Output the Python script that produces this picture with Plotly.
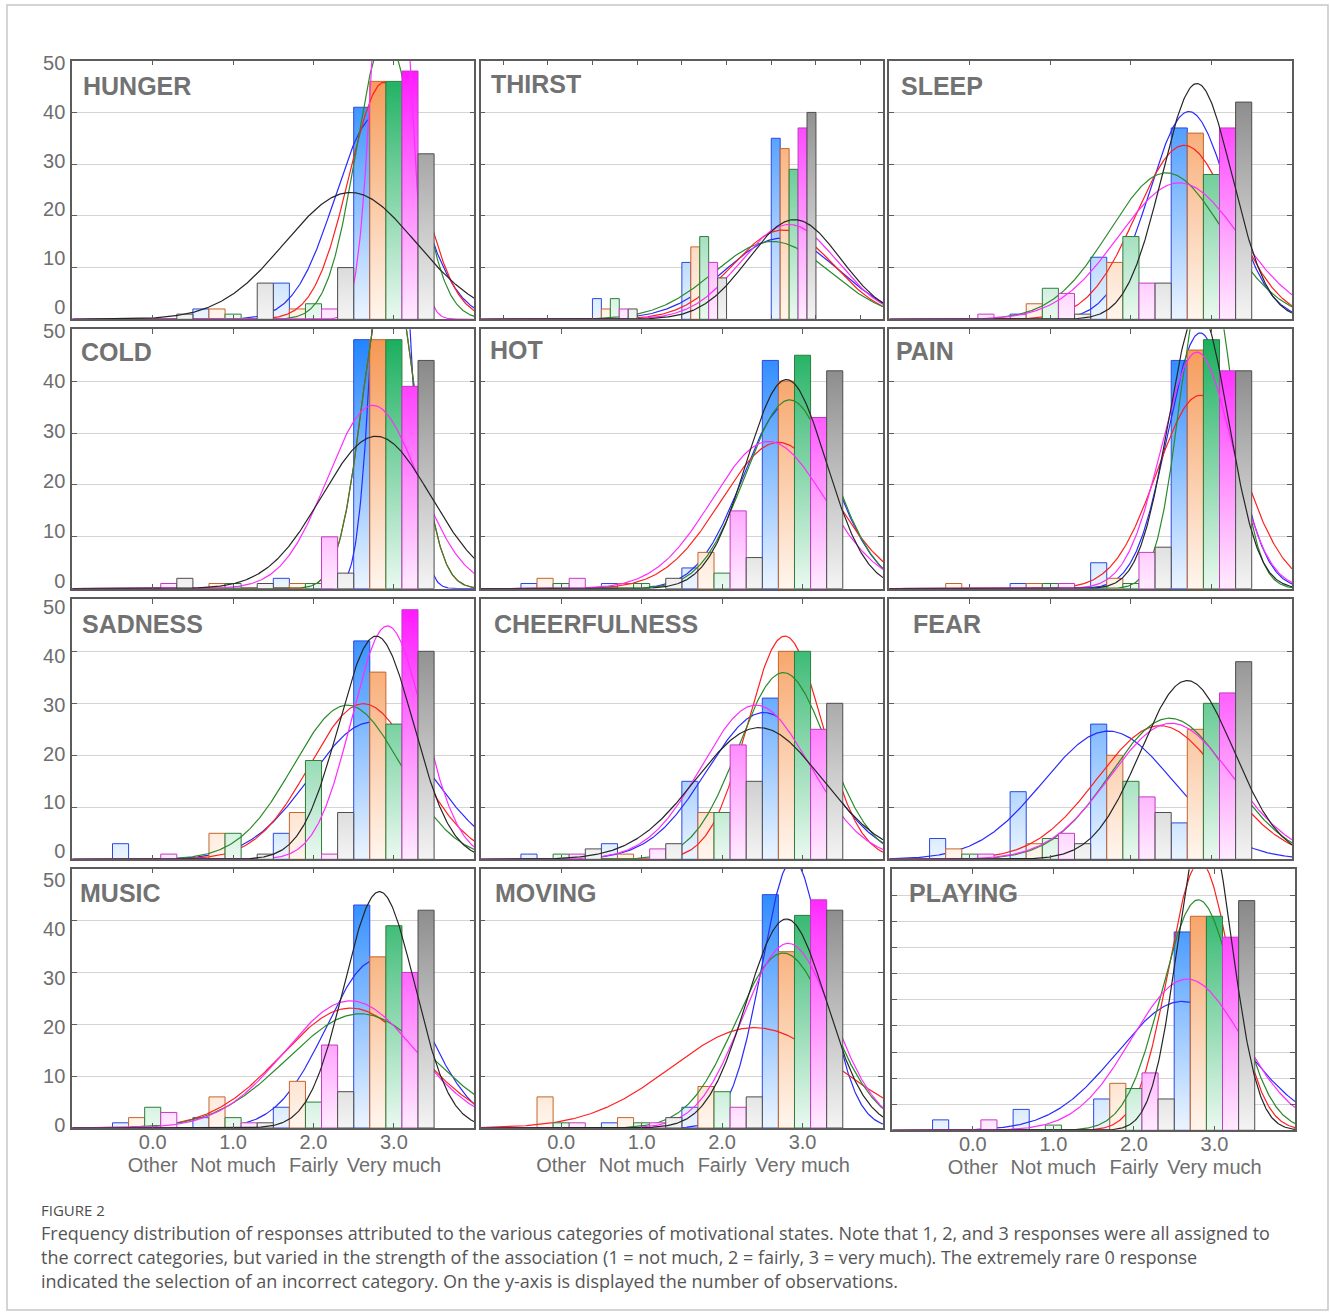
import numpy as np
import plotly.graph_objects as go

# ---------------------------------------------------------------- data
CATEGORY_VALUES = [0, 1, 2, 3]
CATEGORY_NUMBERS = ["0.0", "1.0", "2.0", "3.0"]
CATEGORY_WORDS = ["Other", "Not much", "Fairly", "Very much"]
Y_TICKS = [0, 10, 20, 30, 40, 50]
PANEL_NAMES = ["HUNGER", "THIRST", "SLEEP", "COLD", "HOT", "PAIN",
               "SADNESS", "CHEERFULNESS", "FEAR", "MUSIC", "MOVING", "PLAYING"]

# number of observations per response category (0 Other, 1 Not much, 2 Fairly, 3 Very much)
# one row per series (blue, orange, green, magenta, grey)
HUNGER = [[0, 2, 7, 41], [0, 2, 2, 46], [0, 1, 3, 46], [0, 0, 2, 48], [1, 7, 10, 32]]
THIRST = [[0, 4, 11, 35], [0, 2, 14, 33], [0, 4, 16, 29], [0, 2, 11, 37], [0, 2, 8, 40]]
SLEEP = [[0, 1, 12, 37], [0, 3, 11, 36], [0, 6, 16, 28], [1, 5, 7, 37], [0, 1, 7, 42]]
COLD = [[0, 0, 2, 48], [0, 1, 1, 48], [0, 1, 1, 48], [1, 0, 10, 39], [2, 1, 3, 44]]
HOT = [[1, 1, 4, 44], [2, 1, 7, 40], [1, 1, 3, 45], [2, 0, 15, 33], [0, 2, 6, 42]]
PAIN = [[0, 1, 5, 44], [1, 1, 2, 46], [0, 1, 1, 48], [0, 1, 7, 42], [0, 0, 8, 42]]
SADNESS = [[3, 0, 5, 42], [0, 5, 9, 36], [0, 5, 19, 26], [1, 0, 1, 48], [0, 1, 9, 40]]
CHEERFULNESS = [[1, 3, 15, 31], [0, 1, 9, 40], [1, 0, 9, 40], [1, 2, 22, 25], [2, 3, 15, 30]]
FEAR = [[4, 13, 26, 7], [2, 3, 20, 25], [1, 4, 15, 30], [1, 5, 12, 32], [0, 3, 9, 38]]
MUSIC = [[1, 2, 4, 43], [2, 6, 9, 33], [4, 2, 5, 39], [3, 1, 16, 30], [0, 1, 7, 42]]
MOVING = [[0, 1, 4, 45], [6, 2, 8, 34], [1, 1, 7, 41], [1, 1, 4, 44], [0, 2, 6, 42]]
PLAYING = [[2, 4, 6, 38], [0, 0, 9, 41], [0, 1, 8, 41], [2, 0, 11, 37], [0, 0, 6, 44]]

PANEL_COUNTS = [HUNGER, THIRST, SLEEP, COLD, HOT, PAIN,
                SADNESS, CHEERFULNESS, FEAR, MUSIC, MOVING, PLAYING]

CAPTION_HEAD = "FIGURE 2"
CAPTION_LINES = [
    "Frequency distribution of responses attributed to the various categories of motivational states. Note that 1, 2, and 3 responses were all assigned to",
    "the correct categories, but varied in the strength of the association (1 = not much, 2 = fairly, 3 = very much). The extremely rare 0 response",
    "indicated the selection of an incorrect category. On the y-axis is displayed the number of observations.",
]

# ---------------------------------------------------------------- layout / style
W, H = 1330, 1315
COL_X = [(72.3, 474.3), (480.7, 883.0), (889.3, 1292.0)]
ROW_Y = [(60.7, 319.3), (329.3, 588.7), (599.3, 859.3), (868.7, 1128.0)]
# pixel centre of the "50" and "0" y labels in each row (labels drift from the grid in the original)
ROW_LABEL_Y = [(63.3, 306.7), (331.0, 581.3), (607.0, 851.3), (880.3, 1125.3)]
PANEL_SHIFT = {11: (3.0, 0.6, 2.3)}       # PLAYING panel: dx, dtop, dbottom
BIN_WIDTH = [1, 0.5, 1, 1, 1, 1, 1, 1, 1, 1, 1, 1]   # THIRST drawn with half-width bins
X_RANGE_STD = [-1.0, 4.0]
X_RANGE_HALF = [-0.75, 3.75]
TITLE_INSET = [9.4, 9, 10.7, 7.7, 8, 6, 8.4, 12.3, 22.7, 7, 13.3, 16]
TITLE_CAPTOP = [16, 14.3, 16, 13.4, 12, 12.7, 16, 15.4, 15.4, 15, 15, 14.4]

SERIES_STYLE = [
    dict(full="rgb(25,128,255)", light="rgb(236,245,255)", edge="#2b48e0", curve="#2a2aff"),
    dict(full="rgb(245,148,78)", light="rgb(255,246,238)", edge="#c4652c", curve="#ff2020"),
    dict(full="rgb(18,172,88)", light="rgb(234,249,240)", edge="#2f7d3a", curve="#2a8a2a"),
    dict(full="rgb(255,16,255)", light="rgb(255,236,255)", edge="#c23cc2", curve="#ff2cff"),
    dict(full="rgb(122,122,122)", light="rgb(244,244,244)", edge="#4d4d4d", curve="#262626"),
]
FRAME = "#5c5c5c"
GRID = "#d4d4d4"
TEXT = "#6e6e6e"
FONT = "Liberation Sans, Arial, sans-serif"
TICKFONT = dict(family=FONT, size=20, color=TEXT)


def normal_fit(counts, bin_w):
    x = np.array(CATEGORY_VALUES, dtype=float)
    n = np.array(counts, dtype=float)
    total = n.sum()
    mean = (n * x).sum() / total
    sd = np.sqrt((n * (x - mean) ** 2).sum() / (total - 1))
    return mean, sd, total * bin_w / (sd * np.sqrt(2 * np.pi))


def hidden_anchor(xa, ya):
    # invisible point outside the ranges: only registers an extra (label) axis pair
    return go.Scatter(x=[0], y=[-1000], xaxis=xa, yaxis=ya, mode="markers",
                      marker=dict(opacity=0), hoverinfo="skip", showlegend=False)


fig = go.Figure()
layout = dict(
    width=W, height=H, autosize=False,
    margin=dict(l=0, r=0, t=0, b=0, autoexpand=False),
    paper_bgcolor="white", plot_bgcolor="white",
    showlegend=False,
    annotations=[], shapes=[],
)

extra_y = 13
extra_x = 13
for p, (name, counts) in enumerate(zip(PANEL_NAMES, PANEL_COUNTS)):
    r, c = divmod(p, 3)
    left, right = COL_X[c]
    top, bottom = ROW_Y[r]
    if p in PANEL_SHIFT:
        dx, dt, db = PANEL_SHIFT[p]
        left, right, top, bottom = left + dx, right + dx, top + dt, bottom + db
    sfx = "" if p == 0 else str(p + 1)
    xa, ya = "x" + sfx, "y" + sfx
    bw = BIN_WIDTH[p]
    xr = X_RANGE_STD if bw == 1 else X_RANGE_HALF
    bar_w = bw / 5.0

    xgrid = np.linspace(xr[0], xr[1], 500)
    for i, (row, st) in enumerate(zip(counts, SERIES_STYLE)):
        xs, ys = [], []
        for k, n in zip(CATEGORY_VALUES, row):
            if n <= 0:
                continue
            x0 = k - 0.5 + i * bar_w
            x1 = x0 + bar_w
            xs += [x0, x0, x1, x1, x0, None]
            ys += [0, n, n, 0, 0, None]
        fig.add_trace(go.Scatter(
            x=xs, y=ys, mode="lines", fill="toself",
            fillgradient=dict(type="vertical", colorscale=[[0, st["light"]], [1, st["full"]]],
                              start=0, stop=50),
            line=dict(color=st["edge"], width=1),
            xaxis=xa, yaxis=ya, hoverinfo="skip", showlegend=False,
        ))
        mean, sd, peak = normal_fit(row, bw)
        fig.add_trace(go.Scatter(
            x=xgrid, y=peak * np.exp(-0.5 * ((xgrid - mean) / sd) ** 2),
            mode="lines", line=dict(color=st["curve"], width=1.2),
            xaxis=xa, yaxis=ya, hoverinfo="skip", showlegend=False,
        ))

    xd = [left / W, right / W]
    yd = [1 - bottom / H, 1 - top / H]
    if bw == 1:
        xtv, xtt = CATEGORY_VALUES, CATEGORY_NUMBERS
    else:
        xtv = list(np.arange(-0.5, 3.51, 0.5))
        xtt = [""] * len(xtv)
    layout["xaxis" + sfx] = dict(
        domain=xd, range=xr, anchor=ya, showgrid=False, zeroline=False,
        showline=True, linecolor=FRAME, linewidth=1.5, mirror="ticks",
        ticks="inside", ticklen=5, tickcolor=FRAME, tickwidth=1,
        tickmode="array", tickvals=xtv, ticktext=xtt,
        showticklabels=(r == 3), tickfont=TICKFONT, ticklabelstandoff=-5,
        fixedrange=True,
    )
    ydt = list(range(0, 51, 5)) if p == 11 else Y_TICKS
    layout["yaxis" + sfx] = dict(
        domain=yd, range=[0, 50], anchor=xa, showgrid=True, gridcolor=GRID, gridwidth=1,
        zeroline=False, showline=True, linecolor=FRAME, linewidth=1.5, mirror="ticks",
        ticks="inside", ticklen=5, tickcolor=FRAME, tickwidth=1,
        tickmode="array", tickvals=ydt, showticklabels=False, fixedrange=True,
    )

    # y labels (left column) on a label axis placed as in the original
    if c == 0:
        p50, p0 = ROW_LABEL_Y[r]
        kpx = (p0 - p50) / 50.0
        hi = 50 + (p50 - top) / kpx
        lo = hi - (bottom - top) / kpx
        lid = "y%d" % extra_y
        layout["yaxis%d" % extra_y] = dict(
            domain=yd, range=[lo, hi], anchor=xa, overlaying=ya, side="left",
            showgrid=False, zeroline=False, showline=False, ticks="",
            tickmode="array", tickvals=Y_TICKS, ticktext=[str(v) for v in Y_TICKS],
            tickfont=TICKFONT, ticklabelstandoff=6, fixedrange=True,
        )
        fig.add_trace(hidden_anchor(xa, lid))
        extra_y += 1

    # second line of x labels (bottom row)
    if r == 3:
        wid = "x%d" % extra_x
        layout["xaxis%d" % extra_x] = dict(
            domain=xd, range=xr, anchor=ya, overlaying=xa, side="bottom",
            showgrid=False, zeroline=False, showline=False, ticks="",
            tickmode="array", tickvals=CATEGORY_VALUES, ticktext=CATEGORY_WORDS,
            tickfont=TICKFONT, ticklabelstandoff=23, fixedrange=True,
        )
        fig.add_trace(hidden_anchor(wid, ya))
        extra_x += 1

    layout["annotations"].append(dict(
        text="<b>%s</b>" % name, xref="paper", yref="paper",
        x=(left + TITLE_INSET[p]) / W, y=1 - (top + TITLE_CAPTOP[p] + 9) / H,
        xanchor="left", yanchor="middle", showarrow=False, borderpad=0,
        font=dict(family=FONT, size=25, color="#727272"),
    ))

# caption
layout["annotations"].append(dict(
    text=CAPTION_HEAD, xref="paper", yref="paper", x=40 / W, y=1 - 1210 / H,
    xanchor="left", yanchor="middle", showarrow=False, borderpad=0,
    font=dict(family="Open Sans, sans-serif", size=15, color="#4d4d4d"),
))
for j, line in enumerate(CAPTION_LINES):
    layout["annotations"].append(dict(
        text=line, xref="paper", yref="paper", x=40 / W, y=1 - (1233 + 24 * j) / H,
        xanchor="left", yanchor="middle", showarrow=False, borderpad=0,
        font=dict(family="Open Sans, sans-serif", size=18, color="#555555"),
    ))

# outer frame of the figure
layout["shapes"].append(dict(
    type="rect", xref="paper", yref="paper",
    x0=7 / W, x1=1328 / W, y0=1 - 1310 / H, y1=1 - 5 / H,
    line=dict(color="#c8c8c8", width=1.5), fillcolor="rgba(0,0,0,0)", layer="below",
))

fig.update_layout(**layout)
fig.write_html(
    "out.html",
    config={"displayModeBar": False},
    post_script="document.body.style.margin='0px';document.body.style.overflow='hidden';",
)
